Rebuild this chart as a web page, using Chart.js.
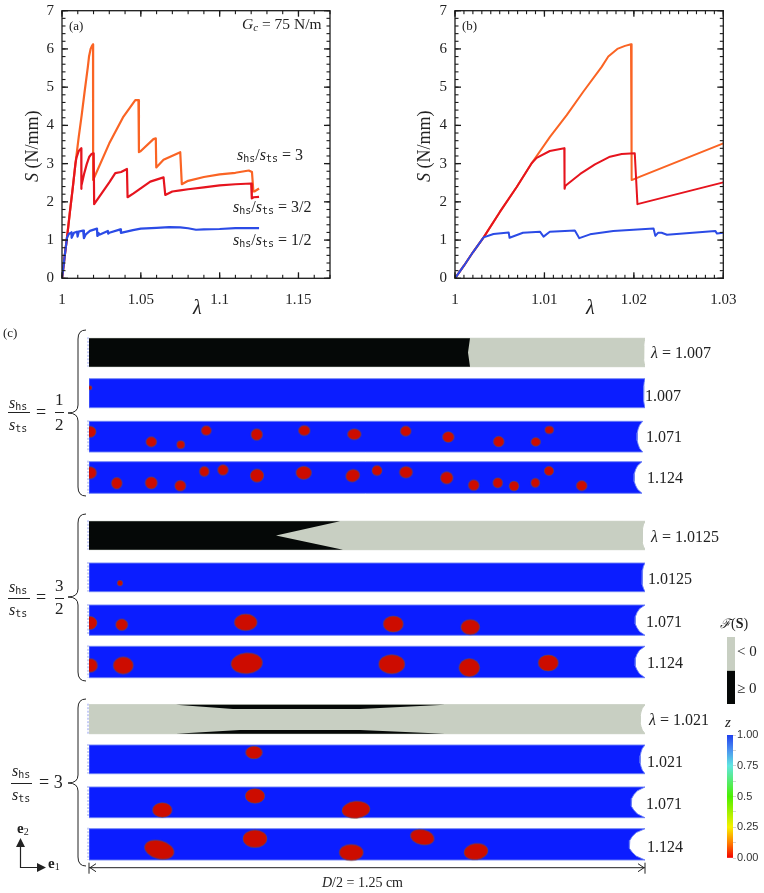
<!DOCTYPE html>
<html>
<head>
<meta charset="utf-8">
<script src="https://cdn.jsdelivr.net/npm/chart.js@4/dist/chart.umd.js"></script>
<style>
html, body { margin: 0; padding: 0; background: #fff; }
#page { position: relative; width: 764px; height: 893px; overflow: hidden; }
canvas { position: absolute; }
</style>
</head>
<body>
<div id="page">
<canvas id="chartStrips" width="764" height="893" style="left:0;top:0"></canvas>
<canvas id="chartA" width="345" height="320" style="left:0;top:0"></canvas>
<canvas id="chartB" width="345" height="320" style="left:400px;top:0"></canvas>
<canvas id="chartYield" width="44" height="85" style="left:720px;top:628px"></canvas>
<canvas id="chartZ" width="44" height="145" style="left:720px;top:725px"></canvas>
</div>
<script>
// stress-stretch curves (a) and (b)
const lambdaThird = [1, 1.001, 1.002, 1.0032, 1.005, 1.0069, 1.00857, 1.01062, 1.01249, 1.01434, 1.0164, 1.01714, 1.01815, 1.01901, 1.01968, 1.01975, 1.0207, 1.03, 1.039, 1.0465, 1.0485, 1.0488, 1.05, 1.058, 1.0595, 1.0598, 1.0644, 1.075, 1.076, 1.08, 1.09, 1.1, 1.11, 1.1185, 1.1205, 1.1214, 1.122, 1.125];
const stressThird = [0, 0.33, 0.68, 1.07, 1.73, 2.39, 3.01, 3.7, 4.27, 4.88, 5.53, 5.8, 6, 6.08, 6.12, 2.57, 2.66, 3.53, 4.23, 4.66, 4.66, 3.3, 3.33, 3.64, 3.66, 2.9, 3.1, 3.3, 2.46, 2.55, 2.65, 2.72, 2.76, 2.82, 2.78, 2.27, 2.27, 2.35];
const lambdaThreeHalves = [1, 1.001, 1.002, 1.0032, 1.005, 1.0069, 1.00857, 1.00913, 1.0106, 1.01222, 1.01225, 1.01235, 1.014, 1.01565, 1.01733, 1.01864, 1.0201, 1.0204, 1.03, 1.0338, 1.0375, 1.0412, 1.0416, 1.0454, 1.056, 1.0644, 1.0655, 1.07, 1.075, 1.08, 1.09, 1.1, 1.11, 1.12, 1.1204, 1.1215, 1.125];
const stressThreeHalves = [0, 0.33, 0.68, 1.07, 1.73, 2.39, 3.01, 3.15, 3.33, 3.4, 2.34, 2.42, 2.73, 2.98, 3.18, 3.25, 3.27, 1.94, 2.51, 2.75, 2.78, 2.86, 2.12, 2.22, 2.53, 2.64, 2.18, 2.27, 2.3, 2.33, 2.38, 2.43, 2.46, 2.48, 2.09, 2.12, 2.13];
const lambdaHalf = [1, 1.001, 1.002, 1.0032, 1.0043, 1.006, 1.0061, 1.0076, 1.0095, 1.0099, 1.0106, 1.0134, 1.0139, 1.0151, 1.0177, 1.0222, 1.0224, 1.0227, 1.0231, 1.0237, 1.0291, 1.0293, 1.03, 1.037, 1.0374, 1.045, 1.05, 1.06, 1.068, 1.075, 1.08, 1.085, 1.09, 1.1, 1.11, 1.125];
const stressHalf = [0, 0.33, 0.68, 1.07, 1.16, 1.2, 1.06, 1.19, 1.22, 1.09, 1.22, 1.25, 1.05, 1.15, 1.24, 1.3, 1.11, 1.19, 1.19, 1.14, 1.24, 1.17, 1.19, 1.28, 1.19, 1.26, 1.3, 1.32, 1.34, 1.33, 1.31, 1.27, 1.28, 1.29, 1.31, 1.31];

const stressTicks = [0, 1, 2, 3, 4, 5, 6, 7];
const lambdaTicksA = [1, 1.05, 1.1, 1.15];
const lambdaTicksB = [1, 1.01, 1.02, 1.03];

// panel (c): cavities as [position along D/2 (0..556), position across the strip (0..1), half length, half height, tilt in degrees]
const cavitiesHalfB = [[1, 0.31, 2, 2, 0]];
const cavitiesHalfC = [[1, 0.34, 6, 5.5, 0], [62.3, 0.67, 5.3, 5, 0], [91.7, 0.76, 4, 4, 0], [117.3, 0.3, 5, 4.7, 0], [167.7, 0.43, 5.7, 5.7, 0], [215.3, 0.3, 5.7, 5, 0], [265.3, 0.42, 6.7, 5.3, 0], [316.7, 0.32, 5.3, 5, 0], [359.3, 0.51, 5.7, 5.3, 0], [409.7, 0.66, 5.3, 5.3, 0], [446.7, 0.67, 4.7, 4.3, 0], [460.3, 0.28, 4.3, 3.7, 0]];
const cavitiesHalfD = [[1, 0.35, 6.5, 6, 0], [27.7, 0.68, 5.3, 5.7, 0], [62.3, 0.67, 6, 6, 0], [91.3, 0.76, 5.5, 5.3, 0], [115.3, 0.31, 4.8, 5, 0], [134, 0.26, 5.2, 5.2, 0], [168, 0.44, 6.7, 6.5, 0], [214.7, 0.35, 7.7, 6.5, 0], [263.7, 0.44, 7, 6, -20], [288, 0.28, 5, 5, 0], [317, 0.33, 6.5, 5.7, 0], [357.7, 0.51, 6.2, 6, 0], [384.7, 0.74, 5.3, 5.3, 0], [408.7, 0.67, 4.8, 5, 0], [425, 0.77, 4.8, 4.8, 0], [446.3, 0.67, 4.3, 4.5, 0], [460, 0.29, 4.7, 4.5, 0], [492.7, 0.76, 5.3, 5, 0]];
const cavitiesMidB = [[31, 0.7, 2.7, 2.7, 0]];
const cavitiesMidC = [[1, 0.59, 7, 6.5, 0], [32.7, 0.65, 6, 5.7, 0], [156.7, 0.57, 11.3, 8.3, 0], [304.3, 0.63, 10, 8, 0], [381.3, 0.73, 9.3, 7.5, 0]];
const cavitiesMidD = [[1.5, 0.61, 7, 6.7, 0], [34.3, 0.61, 10, 8.5, 0], [157.7, 0.54, 15.7, 10.3, -5], [302.7, 0.57, 13, 9.5, 0], [380.3, 0.68, 10.3, 9, 0], [459.3, 0.53, 10, 8, 0]];
const cavitiesThreeB = [[165, 0.26, 8.3, 6.3, 0]];
const cavitiesThreeC = [[73.3, 0.75, 9.7, 7.3, 0], [166, 0.29, 9.7, 7.3, 0], [267, 0.74, 14, 8.5, -5]];
const cavitiesThreeD = [[70.3, 0.67, 15, 9, 15], [166, 0.32, 12, 8.7, 0], [262.3, 0.76, 12, 8, 0], [333.3, 0.27, 12, 7.5, 12], [387, 0.73, 12, 8, -8]];

// failure surface regions in the top strip of each group: [position along D/2, position across]
const yieldedHalf = [[0, 0], [381, 0], [379, 0.5], [381, 1], [0, 1]];
const yieldedMid = [[0, 0], [251, 0], [187, 0.5], [254, 1], [0, 1]];
const yieldedThreeTop = [[87, 0], [144, 0.15], [271, 0.15], [356, 0]];
const yieldedThreeBottom = [[87, 1], [151, 0.87], [271, 0.87], [356, 1]];

// strip rows from top to bottom, with the end neck depth and the stretch label
const rowCavities = [[], cavitiesHalfB, cavitiesHalfC, cavitiesHalfD, [], cavitiesMidB, cavitiesMidC, cavitiesMidD, [], cavitiesThreeB, cavitiesThreeC, cavitiesThreeD];
const rowNeck = [1.5, 1.5, 5.7, 8, 3, 3, 10, 10, 5, 5, 14, 16];
const rowEnd = [556, 556, 553.7, 553, 556, 556, 556, 556, 556, 556, 556, 556];
const rowLabels = ['1.007', '1.007', '1.071', '1.124', '1.0125', '1.0125', '1.071', '1.124', '1.021', '1.021', '1.071', '1.124'];
const rowTop = [338.3, 378.7, 421.3, 461.7, 521.3, 563, 605, 646.3, 704.7, 745, 787, 828.7];
const rowBottom = [366.7, 407.7, 452, 493.3, 549.7, 591.7, 635.3, 677.7, 733.7, 773.7, 817.7, 860];
const neckProfile = [0, 0.55, 0.8, 0.95, 1, 0.95, 0.8, 0.55, 0];

const zTicks = [0, 0.125, 0.25, 0.375, 0.5, 0.625, 0.75, 0.875, 1];
const zLabels = { 0: '0.00', 0.25: '0.25', 0.5: '0.5', 0.75: '0.75', 1: '1.00' };

const BLUE = '#0b1dff';
const RED = '#cd0c00';
const GRAY = '#c8cfc2';
const BLACK = '#050807';
const INK = '#222';

const rm = s => s + 'px "Liberation Serif"';
const it = s => 'italic ' + s + 'px "Liberation Serif"';
const bd = s => 'bold ' + s + 'px "Liberation Serif"';
const tt = s => s + 'px "DejaVu Sans Mono"';

function stepsBetween(from, to, step) {
    const out = [];
    const n = Math.round((to - from) / step);
    for (let i = 0; i <= n; i++) out.push(+(from + i * step).toFixed(4));
    return out;
}

function framePlugin(xMinor, yMinor, xMajor, yMajor) {
    return {
        id: 'frame',
        afterDatasetsDraw(chart) {
            const { ctx, chartArea: a, scales } = chart;
            ctx.save();
            ctx.fillStyle = '#1a1a1a';
            const markX = (v, len, w) => {
                const x = scales.x.getPixelForValue(v);
                ctx.fillRect(x - w / 2, a.bottom - len, w, len);
                ctx.fillRect(x - w / 2, a.top, w, len);
            };
            const markY = (v, len, w) => {
                const y = scales.y.getPixelForValue(v);
                ctx.fillRect(a.left, y - w / 2, len, w);
                ctx.fillRect(a.right - len, y - w / 2, len, w);
            };
            xMinor.forEach(v => markX(v, 3.5, 1.1));
            yMinor.forEach(v => markY(v, 3.5, 1.1));
            xMajor.forEach(v => markX(v, 6, 1.3));
            yMajor.forEach(v => markY(v, 6, 1.3));
            ctx.strokeStyle = '#1c1c1c';
            ctx.lineWidth = 1.3;
            ctx.strokeRect(a.left, a.top, a.right - a.left, a.bottom - a.top);
            ctx.restore();
        }
    };
}

function toPoints(xs, ys) {
    return xs.map((x, i) => ({ x: x, y: ys[i] }));
}

function curvesChart(id, xMax, xTicks, xMinor, leftWidth, rightPad, lineWidth) {
    const line = (xs, ys, color) => ({
        data: toPoints(xs, ys), showLine: true, borderColor: color, borderWidth: lineWidth,
        pointRadius: 0, tension: 0, borderJoinStyle: 'round'
    });
    new Chart(document.getElementById(id), {
        type: 'scatter',
        data: {
            datasets: [
                line(lambdaHalf, stressHalf, '#2b4be6'),
                line(lambdaThreeHalves, stressThreeHalves, '#e6141e'),
                line(lambdaThird, stressThird, '#fa6424')
            ]
        },
        options: {
            responsive: false,
            animation: false,
            events: [],
            layout: { autoPadding: false, padding: { top: 10.7, right: rightPad, left: 0, bottom: 0 } },
            plugins: { legend: { display: false }, tooltip: { enabled: false } },
            scales: {
                x: {
                    type: 'linear', min: 1, max: xMax,
                    grid: { display: false }, border: { display: false },
                    afterBuildTicks: s => { s.ticks = xTicks.map(v => ({ value: v })); },
                    afterFit: s => { s.height = 41.7; },
                    ticks: {
                        autoSkip: false, maxRotation: 0, padding: 5, color: INK,
                        font: { family: 'Liberation Serif', size: 15 },
                        callback: v => String(v)
                    }
                },
                y: {
                    type: 'linear', min: 0, max: 7,
                    grid: { display: false, drawTicks: true, tickLength: 8 }, border: { display: false },
                    afterBuildTicks: s => { s.ticks = stressTicks.map(v => ({ value: v })); },
                    afterFit: s => { s.width = leftWidth; },
                    ticks: {
                        padding: 0, color: INK,
                        font: { family: 'Liberation Serif', size: 15 },
                        callback: v => String(v)
                    }
                }
            }
        },
        plugins: [framePlugin(xMinor, stepsBetween(0, 7, 0.2), xTicks, stressTicks)]
    });
}

curvesChart('chartA', 1.17, lambdaTicksA, stepsBetween(1, 1.17, 0.01), 62, 15, 2.2);
curvesChart('chartB', 1.03, lambdaTicksB, stepsBetween(1, 1.03, 0.001), 55, 21.7, 2);

// colour bar for z
new Chart(document.getElementById('chartZ'), {
    type: 'bar',
    data: {
        labels: ['z'],
        datasets: [{
            data: [[0, 1]], barPercentage: 1, categoryPercentage: 1,
            backgroundColor: c => {
                const a = c.chart.chartArea;
                if (!a) return '#888';
                const g = c.chart.ctx.createLinearGradient(0, a.bottom, 0, a.top);
                g.addColorStop(0, '#f40000');
                g.addColorStop(0.12, '#ff7a00');
                g.addColorStop(0.25, '#f8f000');
                g.addColorStop(0.5, '#4cf000');
                g.addColorStop(0.75, '#60e6e0');
                g.addColorStop(0.88, '#4a90f0');
                g.addColorStop(1, '#2040ee');
                return g;
            }
        }]
    },
    options: {
        responsive: false, animation: false, events: [],
        layout: { autoPadding: false, padding: { left: 7, top: 10, bottom: 12, right: 0 } },
        plugins: { legend: { display: false }, tooltip: { enabled: false } },
        scales: {
            x: { display: false },
            y: {
                position: 'right', min: 0, max: 1,
                grid: { drawOnChartArea: false, tickLength: 3, tickColor: '#d4d4d4' }, border: { display: false },
                afterBuildTicks: s => { s.ticks = zTicks.map(v => ({ value: v })); },
                afterFit: s => { s.width = 31; },
                ticks: {
                    autoSkip: false, padding: 1, color: '#333',
                    font: { family: 'Liberation Sans', size: 11 },
                    callback: v => zLabels[v] || ''
                }
            }
        }
    }
});

// two-tone bar for the failure surface sign
new Chart(document.getElementById('chartYield'), {
    type: 'bar',
    data: {
        labels: ['F'],
        datasets: [
            { data: [[1, 2]], backgroundColor: GRAY, barPercentage: 1, categoryPercentage: 1, grouped: false },
            { data: [[0, 1]], backgroundColor: BLACK, barPercentage: 1, categoryPercentage: 1, grouped: false }
        ]
    },
    options: {
        responsive: false, animation: false, events: [],
        layout: { autoPadding: false, padding: { left: 7, top: 6, bottom: 9, right: 0 } },
        plugins: { legend: { display: false }, tooltip: { enabled: false } },
        scales: {
            x: { display: false },
            y: {
                position: 'right', min: 0, max: 2,
                grid: { display: false, drawTicks: true, tickLength: 2 }, border: { display: false },
                afterBuildTicks: s => { s.ticks = [{ value: 0.45 }, { value: 1.55 }]; },
                afterFit: s => { s.width = 29; },
                ticks: {
                    autoSkip: false, padding: 0, color: INK,
                    font: { family: 'Liberation Serif', size: 15 },
                    callback: v => (v < 1 ? '≥ 0' : '< 0')
                }
            }
        }
    }
});

// panel (c)
function acrossRow(row, frac) {
    return rowTop[row] + frac * (rowBottom[row] - rowTop[row]);
}

function ellipseSprite(p) {
    const size = Math.ceil(Math.max(p.rx, p.ry) * 2 + 4);
    const c = document.createElement('canvas');
    c.width = size; c.height = size;
    const g = c.getContext('2d');
    g.fillStyle = RED;
    g.strokeStyle = 'rgba(95,95,70,0.7)';
    g.lineWidth = 0.7;
    g.beginPath();
    g.ellipse(size / 2, size / 2, p.rx, p.ry, p.tilt * Math.PI / 180, 0, Math.PI * 2);
    g.fill();
    g.stroke();
    return c;
}

function shape(points, color, order, outline) {
    return {
        type: 'line', data: points, fill: 'shape', backgroundColor: color,
        borderColor: outline || color, borderWidth: outline ? 1 : 0,
        pointRadius: 0, tension: 0, order: order
    };
}

function stripOutline(row) {
    const end = rowEnd[row];
    const pts = [{ x: 0, y: rowTop[row] }];
    neckProfile.forEach((d, i) => {
        pts.push({ x: end - d * rowNeck[row], y: acrossRow(row, i / (neckProfile.length - 1)) });
    });
    pts.push({ x: 0, y: rowBottom[row] }, { x: 0, y: rowTop[row] });
    return pts;
}

const stripDatasets = [];
rowTop.forEach((top, row) => {
    const isTensile = row % 4 === 0;
    stripDatasets.push(shape(stripOutline(row), isTensile ? GRAY : BLUE, 5, isTensile ? GRAY : 'rgba(110,130,245,0.9)'));
    if (row !== 1) {
        stripDatasets.push({
            type: 'line', data: [{ x: -1, y: top - 1 }, { x: -1, y: rowBottom[row] }],
            borderColor: '#8f9df0', borderWidth: 1, borderDash: [2, 1.5],
            pointRadius: 0, order: 4, clip: false
        });
    }
    const cavities = rowCavities[row].map(c => ({
        x: c[0], y: acrossRow(row, c[1]), r: Math.max(c[2], c[3]), rx: c[2], ry: c[3], tilt: c[4]
    }));
    if (cavities.length) {
        stripDatasets.push({
            type: 'bubble', data: cavities, clip: 0, order: 1,
            pointStyle: c => ellipseSprite(c.raw), backgroundColor: RED, borderWidth: 0
        });
    }
});
const regionPoints = (region, row) => region.map(p => ({ x: p[0], y: acrossRow(row, p[1]) }));
stripDatasets.push(shape(regionPoints(yieldedHalf, 0), BLACK, 3));
stripDatasets.push(shape(regionPoints(yieldedMid, 4), BLACK, 3));
stripDatasets.push(shape(regionPoints(yieldedThreeTop, 8), BLACK, 3));
stripDatasets.push(shape(regionPoints(yieldedThreeBottom, 8), BLACK, 3));
// width dimension line under the last strip
stripDatasets.push({
    type: 'line', data: [{ x: 0, y: 867.7 }, { x: 556, y: 867.7 }],
    borderColor: INK, borderWidth: 1, pointRadius: 0, order: 2
});

function ratioParts(tail) {
    return [['s', it(16)], ['hs', tt(10), 2], ['/', rm(16)], ['s', it(16)], ['ts', tt(10), 2], [tail, rm(16)]];
}

const texts = [
    { x: 69, y: 30, parts: [['(a)', rm(13)]] },
    { x: 462, y: 30, parts: [['(b)', rm(13)]] },
    { x: 3, y: 337, parts: [['(c)', rm(13)]] },
    { x: 242, y: 29, parts: [['G', it(15.5)], ['c', it(11), 2], [' = 75 N/m', rm(15.5)]] },
    { x: 237, y: 160, parts: ratioParts(' = 3') },
    { x: 233, y: 212, parts: ratioParts(' = 3/2') },
    { x: 233, y: 245, parts: ratioParts(' = 1/2') },
    { x: 38, y: 182, rot: -90, parts: [['S', it(18)], [' (N/mm)', rm(18)]] },
    { x: 430, y: 182, rot: -90, parts: [['S', it(18)], [' (N/mm)', rm(18)]] },
    { x: 193, y: 314, parts: [['λ', it(20)]] },
    { x: 586, y: 314, parts: [['λ', it(20)]] },
    { x: 322, y: 887, parts: [['D', it(14)], ['/2 = 1.25 cm', rm(14)]] },
    { x: 720, y: 628, parts: [['ℱ', it(13)], ['(', rm(14)], ['S', bd(14)], [')', rm(14)]] },
    { x: 725, y: 727, parts: [['z', it(15)]] },
    { x: 17, y: 833, parts: [['e', bd(15)], ['2', rm(10), 2]] },
    { x: 48, y: 868, parts: [['e', bd(15)], ['1', rm(10), 2]] },
    // group fractions
    { x: 9, y: 408, parts: [['s', it(16)], ['hs', tt(10), 2]] },
    { x: 9, y: 430, parts: [['s', it(16)], ['ts', tt(10), 2]] },
    { x: 36, y: 418, parts: [['=', rm(18)]] },
    { x: 55, y: 405, parts: [['1', rm(17)]] },
    { x: 55, y: 430, parts: [['2', rm(17)]] },
    { x: 9, y: 592, parts: [['s', it(16)], ['hs', tt(10), 2]] },
    { x: 9, y: 615, parts: [['s', it(16)], ['ts', tt(10), 2]] },
    { x: 36, y: 603, parts: [['=', rm(18)]] },
    { x: 55, y: 591, parts: [['3', rm(17)]] },
    { x: 55, y: 614, parts: [['2', rm(17)]] },
    { x: 12, y: 776, parts: [['s', it(16)], ['hs', tt(10), 2]] },
    { x: 12, y: 800, parts: [['s', it(16)], ['ts', tt(10), 2]] },
    { x: 39, y: 788, parts: [['= 3', rm(18)]] }
];

const rowLabelX = [651, 645, 646, 647, 651, 648, 646, 647, 649, 647, 646, 647];
const rowLabelY = [358, 401, 442, 483, 542, 584, 627, 668, 725, 767, 809, 852];
rowLabels.forEach((label, row) => {
    const prefix = row % 4 === 0 ? ['λ', it(16)] : null;
    const body = [(prefix ? ' = ' : '') + label, rm(16)];
    texts.push({ x: rowLabelX[row], y: rowLabelY[row], parts: prefix ? [prefix, body] : [body] });
});

function drawParts(ctx, t) {
    ctx.save();
    ctx.translate(t.x, t.y);
    if (t.rot) ctx.rotate(t.rot * Math.PI / 180);
    ctx.fillStyle = INK;
    ctx.textBaseline = 'alphabetic';
    ctx.textAlign = 'left';
    let x = 0;
    t.parts.forEach(p => {
        ctx.font = p[1];
        ctx.fillText(p[0], x, p[2] || 0);
        x += ctx.measureText(p[0]).width;
    });
    ctx.restore();
}

function drawBrace(ctx, top, mid, bottom) {
    const spine = 78, end = 86, tip = 68;
    ctx.beginPath();
    ctx.moveTo(end, top);
    ctx.quadraticCurveTo(spine, top, spine, top + 9);
    ctx.lineTo(spine, mid - 8);
    ctx.quadraticCurveTo(spine, mid, tip, mid);
    ctx.quadraticCurveTo(spine, mid, spine, mid + 8);
    ctx.lineTo(spine, bottom - 9);
    ctx.quadraticCurveTo(spine, bottom, end, bottom);
    ctx.stroke();
}

const annotations = {
    id: 'annotations',
    afterDraw(chart) {
        const ctx = chart.ctx;
        ctx.save();
        ctx.strokeStyle = INK;
        ctx.fillStyle = INK;
        ctx.lineWidth = 1;
        drawBrace(ctx, 330, 413, 496);
        drawBrace(ctx, 514, 597, 681);
        drawBrace(ctx, 699, 783, 866);
        // fraction bars
        [[8, 30, 412], [55, 64, 412], [8, 30, 598], [55, 64, 598], [11, 32, 783]].forEach(r => {
            ctx.beginPath(); ctx.moveTo(r[0], r[2] + 0.5); ctx.lineTo(r[1], r[2] + 0.5); ctx.stroke();
        });
        // dimension line ends
        const xs = chart.scales.x, ys = chart.scales.y;
        const x0 = xs.getPixelForValue(0), x1 = xs.getPixelForValue(556), yd = ys.getPixelForValue(867.7);
        ctx.beginPath();
        ctx.moveTo(x0, yd - 5); ctx.lineTo(x0, yd + 6);
        ctx.moveTo(x1, yd - 5); ctx.lineTo(x1, yd + 6);
        ctx.moveTo(x0 + 7, yd - 4); ctx.lineTo(x0 + 1, yd); ctx.lineTo(x0 + 7, yd + 4);
        ctx.moveTo(x1 - 7, yd - 4); ctx.lineTo(x1 - 1, yd); ctx.lineTo(x1 - 7, yd + 4);
        ctx.stroke();
        // e1, e2 triad
        ctx.lineWidth = 1.2;
        ctx.beginPath();
        ctx.moveTo(20.5, 845); ctx.lineTo(20.5, 867.5); ctx.lineTo(38, 867.5);
        ctx.stroke();
        ctx.beginPath();
        ctx.moveTo(20.5, 838); ctx.lineTo(16, 847); ctx.lineTo(25, 847); ctx.closePath();
        ctx.moveTo(46, 867.5); ctx.lineTo(37, 863); ctx.lineTo(37, 872); ctx.closePath();
        ctx.fill();
        ctx.restore();
        texts.forEach(t => drawParts(ctx, t));
    }
};

new Chart(document.getElementById('chartStrips'), {
    type: 'bubble',
    data: { datasets: stripDatasets },
    options: {
        responsive: false,
        animation: false,
        events: [],
        layout: { autoPadding: false, padding: { left: 89, right: 119, top: 320, bottom: 0 } },
        plugins: { legend: { display: false }, tooltip: { enabled: false } },
        scales: {
            x: { type: 'linear', display: false, min: 0, max: 556 },
            y: { type: 'linear', display: false, min: 320, max: 893, reverse: true }
        }
    },
    plugins: [annotations]
});
</script>
</body>
</html>
